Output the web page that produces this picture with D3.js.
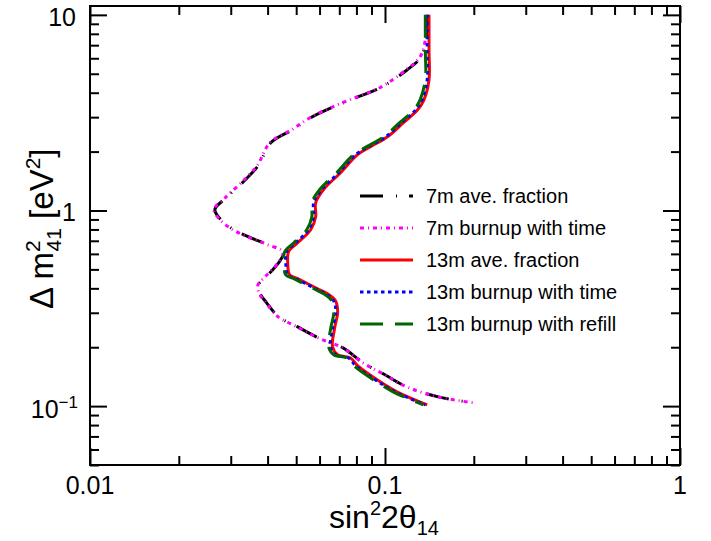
<!DOCTYPE html>
<html>
<head>
  <meta charset="utf-8">
  <title>sterile neutrino sensitivity</title>
  <style>
  body { margin: 0; background: #fff; }
  text { font-family: "Liberation Sans", Arial, sans-serif; fill: #000; }
  .frame { fill: none; stroke: #000; stroke-width: 2px; }
  .curve { fill: none; stroke-width: 3px; }
  </style>
</head>
<body>
  <svg width="711" height="541"></svg>
  <script src="https://d3js.org/d3.v7.min.js"></script>
  <script>
  // data (sin^2 2theta, delta m^2)
  var ave7_x = [0.139, 0.139, 0.137, 0.132, 0.119, 0.0965, 0.0795, 0.067, 0.056, 0.0486, 0.041, 0.0373, 0.0337, 0.0289, 0.0265, 0.0278, 0.0307, 0.0351, 0.0403, 0.0453, 0.0443, 0.0416, 0.0394, 0.0373, 0.0376, 0.0397, 0.0436, 0.0506, 0.0596, 0.0718, 0.0846, 0.0989, 0.1192, 0.1517, 0.2012];
  var ave7_y = [10, 8.4, 7.04, 6.04, 5.24, 4.24, 3.77, 3.39, 2.98, 2.59, 2.22, 1.71, 1.44, 1.16, 1.01, 0.896, 0.797, 0.725, 0.668, 0.615, 0.56, 0.497, 0.458, 0.417, 0.379, 0.337, 0.286, 0.254, 0.223, 0.199, 0.166, 0.146, 0.125, 0.1115, 0.1038];
  var burn7_x = [0.138, 0.138, 0.136, 0.131, 0.118, 0.096, 0.079, 0.0666, 0.0557, 0.0483, 0.0407, 0.037, 0.0334, 0.0287, 0.0263, 0.0276, 0.0305, 0.0349, 0.0401, 0.0451, 0.0441, 0.0414, 0.0392, 0.0371, 0.0374, 0.0395, 0.0434, 0.0504, 0.0594, 0.0716, 0.0844, 0.0987, 0.119, 0.1515, 0.2012];
  var burn7_y = [10, 8.4, 7.04, 6.04, 5.24, 4.24, 3.77, 3.39, 2.98, 2.59, 2.22, 1.71, 1.44, 1.16, 1.01, 0.896, 0.797, 0.725, 0.668, 0.615, 0.56, 0.497, 0.458, 0.417, 0.379, 0.337, 0.286, 0.254, 0.223, 0.199, 0.166, 0.146, 0.125, 0.1115, 0.1038];

  var ave13_x = [0.141, 0.141, 0.141, 0.1355, 0.129, 0.1155, 0.102, 0.0893, 0.0807, 0.0707, 0.0619, 0.0582, 0.0582, 0.056, 0.0506, 0.0471, 0.0468, 0.0475, 0.0506, 0.0547, 0.0591, 0.0639, 0.068, 0.0691, 0.0675, 0.0664, 0.0691, 0.0764, 0.0807, 0.0943, 0.1102, 0.139];
  var time13_x = [0.139, 0.139, 0.139, 0.1335, 0.127, 0.1138, 0.1005, 0.088, 0.0795, 0.0697, 0.061, 0.0573, 0.0573, 0.0551, 0.0498, 0.0464, 0.0461, 0.0468, 0.0499, 0.0539, 0.0582, 0.063, 0.067, 0.0681, 0.0665, 0.0654, 0.0681, 0.0753, 0.0795, 0.0929, 0.1086, 0.137];
  var refill13_x = [0.137, 0.137, 0.137, 0.1315, 0.1252, 0.1121, 0.099, 0.0867, 0.0783, 0.0686, 0.0601, 0.0565, 0.0565, 0.0543, 0.0491, 0.0457, 0.0454, 0.0461, 0.0491, 0.0531, 0.0574, 0.062, 0.066, 0.0671, 0.0655, 0.0644, 0.067, 0.0742, 0.0783, 0.0915, 0.1069, 0.135];
  var dm13_y = [10, 6.6, 4.66, 3.68, 3.27, 2.81, 2.38, 2.12, 1.93, 1.56, 1.28, 1.095, 0.93, 0.797, 0.684, 0.615, 0.54, 0.469, 0.448, 0.422, 0.398, 0.375, 0.345, 0.303, 0.251, 0.201, 0.183, 0.176, 0.161, 0.136, 0.118, 0.1015];

  var seriesNames = ["7m ave. fraction", "7m burnup with time", "13m ave. fraction", "13m burnup with time", "13m burnup with refill"];
  var seriesColors = ["#000000", "#ff00ff", "#ff0000", "#0000ff", "#006400"];
  var seriesDash = ["23,13,1,12", "4,4,1,4", null, "3.5,3.5", "23,12"];

  var xTicks = [0.01, 0.1, 1];
  var xTickLabels = ["0.01", "0.1", "1"];
  var yTicks = [0.1, 1, 10];

  var svg = d3.select("svg");
  var mLeft = 90, mRight = 680, mTop = 6, mBottom = 465;

  var x = d3.scaleLog().domain([0.01, 1]).range([mLeft, mRight]);
  var y = d3.scaleLog().domain([0.05, 11.1]).range([mBottom, mTop]);

  function zip(xs, ys) { return xs.map(function(v, i) { return [v, ys[i]]; }); }
  var series = [
    zip(ave7_x, ave7_y),
    zip(burn7_x, burn7_y),
    zip(ave13_x, dm13_y),
    zip(time13_x, dm13_y),
    zip(refill13_x, dm13_y)
  ];

  // minor tick values
  var xMinor = [], yMinor = [];
  [0.01, 0.1].forEach(function(d) { for (var k = 2; k <= 9; k++) xMinor.push(d * k); });
  [0.01, 0.1, 1].forEach(function(d) {
    for (var k = 2; k <= 9; k++) { var v = d * k; if (v >= 0.05 && v <= 11.1) yMinor.push(v); }
  });

  function axisSet(axisFn, scale, vals, size, transform) {
    svg.append("g").attr("transform", transform)
      .call(axisFn(scale).tickValues(vals).tickSize(size).tickFormat("").tickSizeOuter(0))
      .call(function(g) {
        g.select(".domain").remove();
        g.selectAll("line").attr("stroke", "#000").attr("stroke-width", 2);
      });
  }
  axisSet(d3.axisBottom, x, xTicks, -17, "translate(0," + mBottom + ")");
  axisSet(d3.axisBottom, x, xMinor, -9, "translate(0," + mBottom + ")");
  axisSet(d3.axisTop, x, xTicks, -17, "translate(0," + mTop + ")");
  axisSet(d3.axisTop, x, xMinor, -9, "translate(0," + mTop + ")");
  axisSet(d3.axisLeft, y, yTicks, -17, "translate(" + mLeft + ",0)");
  axisSet(d3.axisLeft, y, yMinor, -9, "translate(" + mLeft + ",0)");
  axisSet(d3.axisRight, y, yTicks, -17, "translate(" + mRight + ",0)");
  axisSet(d3.axisRight, y, yMinor, -9, "translate(" + mRight + ",0)");

  svg.append("rect").attr("class", "frame")
    .attr("x", mLeft).attr("y", mTop).attr("width", mRight - mLeft).attr("height", mBottom - mTop);

  // tick labels
  svg.selectAll(".xlab").data(xTicks).enter().append("text")
    .attr("x", function(d) { return x(d); }).attr("y", 494)
    .attr("text-anchor", "middle").attr("font-size", 25)
    .text(function(d, i) { return xTickLabels[i]; });

  var ylab = svg.selectAll(".ylab").data(yTicks).enter().append("text")
    .attr("x", 76).attr("y", function(d) { return y(d) + 11; })
    .attr("text-anchor", "end").attr("font-size", 25);
  ylab.each(function(d) {
    var t = d3.select(this);
    if (d < 1) {
      t.attr("x", 78).attr("y", y(d) + 12);
      t.append("tspan").text("10");
      t.append("tspan").attr("font-size", 17).attr("dy", -10).text("\u22121");
    } else {
      t.text(d === 10 ? "10" : "1");
    }
  });

  // axis titles
  var xt = svg.append("text").attr("x", 329).attr("y", 528).attr("font-size", 32);
  xt.append("tspan").text("sin");
  xt.append("tspan").attr("font-size", 20).attr("dy", -13).text("2");
  xt.append("tspan").attr("dy", 13).text("2\u03b8");
  xt.append("tspan").attr("font-size", 20).attr("dy", 7).text("14");

  var yt = svg.append("text").attr("transform", "translate(53,309) rotate(-90)").attr("font-size", 33);
  yt.append("tspan").text("\u0394 m");
  yt.append("tspan").attr("font-size", 21).attr("dy", -13).text("2");
  yt.append("tspan").attr("font-size", 21).attr("dx", -11).attr("dy", 21).text("41");
  yt.append("tspan").attr("dy", -8).text(" [eV");
  yt.append("tspan").attr("font-size", 21).attr("dy", -13).text("2");
  yt.append("tspan").attr("dy", 13).text("]");

  // curves
  var line = d3.line()
    .x(function(d) { return x(d[0]); })
    .y(function(d) { return y(d[1]); })
    .curve(d3.curveCatmullRom.alpha(0.5));

  svg.append("g").selectAll("path").data(series).enter().append("path")
    .attr("class", "curve")
    .attr("d", line)
    .attr("stroke", function(d, i) { return seriesColors[i]; })
    .attr("stroke-dasharray", function(d, i) { return seriesDash[i]; });

  // legend
  var leg = svg.append("g").selectAll("g").data(seriesNames).enter().append("g")
    .attr("transform", function(d, i) { return "translate(360," + (196 + i * 32) + ")"; });
  leg.append("line").attr("x1", 0).attr("x2", 53).attr("y1", 0).attr("y2", 0)
    .attr("stroke-width", 3)
    .attr("stroke", function(d, i) { return seriesColors[i]; })
    .attr("stroke-dasharray", function(d, i) { return seriesDash[i]; });
  leg.append("text").attr("x", 66).attr("y", 7).attr("font-size", 20)
    .text(function(d) { return d; });
  </script>
</body>
</html>
